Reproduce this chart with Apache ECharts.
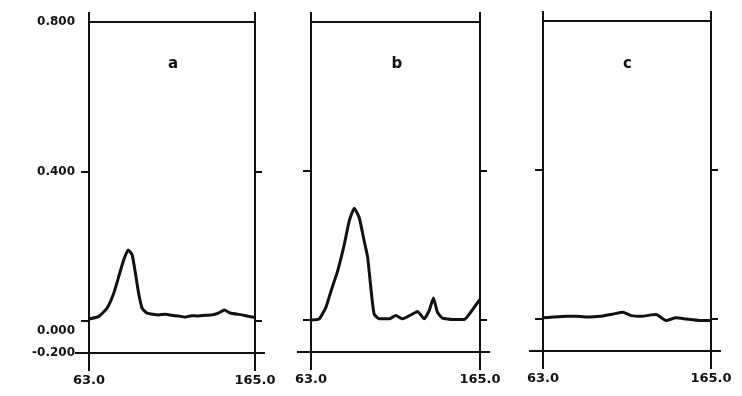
<!DOCTYPE html>
<html>
<head>
<meta charset="utf-8">
<script src="https://cdn.jsdelivr.net/npm/echarts@6/dist/echarts.min.js"></script>
<style>
  html, body { margin: 0; padding: 0; background: #fff; }
  #chart { width: 742px; height: 396px; }
</style>
</head>
<body>
<div id="chart"></div>
<script>
// panel names
const panelNames = ['a', 'b', 'c'];

// x range / tick labels (same for every panel)
const xTickValues = [63.0, 165.0];
const xTickLabels = ['63.0', '165.0'];

// y ticks as printed on the left of panel a (the bottom rule sits just under the baseline)
const yMin = -0.086;
const yMax = 0.8;
const yTickValues = [0.8, 0.4, 0.0, yMin];
const yTickLabels = ['0.800', '0.400', '0.000', '-0.200'];

// traces [x, absorbance]
const traceA = [
  [63.0, 0.005], [69.0, 0.012], [74.1, 0.034], [78.2, 0.074], [81.3, 0.119],
  [84.3, 0.163], [87.0, 0.190], [89.5, 0.177], [91.5, 0.128], [93.5, 0.074],
  [95.6, 0.034], [98.7, 0.021], [105.8, 0.016], [110.0, 0.018], [114.0, 0.015],
  [118.0, 0.013], [122.1, 0.010], [126.0, 0.014], [130.3, 0.013], [134.5, 0.015],
  [138.5, 0.016], [142.5, 0.021], [146.2, 0.029], [149.7, 0.021], [156.9, 0.016],
  [164.0, 0.010], [165.0, 0.010]
];
const traceB = [
  [63.0, 0.000], [68.0, 0.003], [72.0, 0.034], [75.1, 0.078], [79.1, 0.132],
  [83.1, 0.203], [86.1, 0.266], [89.1, 0.300], [92.1, 0.275], [95.1, 0.212],
  [97.2, 0.168], [99.1, 0.087], [101.1, 0.016], [104.2, 0.003], [110.2, 0.003],
  [114.2, 0.012], [118.2, 0.003], [124.3, 0.016], [127.3, 0.023], [131.3, 0.003],
  [134.3, 0.025], [136.9, 0.059], [139.3, 0.021], [142.3, 0.005], [148.4, 0.001],
  [155.4, 0.001], [159.4, 0.021], [164.4, 0.052], [165.0, 0.055]
];
const traceC = [
  [63.0, 0.003], [69.1, 0.005], [77.1, 0.007], [83.2, 0.007], [91.3, 0.005],
  [97.4, 0.007], [105.4, 0.013], [111.5, 0.018], [116.5, 0.009], [122.6, 0.007],
  [128.6, 0.011], [131.7, 0.012], [137.7, -0.004], [143.8, 0.003], [149.8, 0.000],
  [157.9, -0.004], [164.0, -0.004], [165.0, -0.004]
];
const traces = [traceA, traceB, traceC];

const ink = '#111';
const font = 'DejaVu Sans';

const grids = [
  { left: 89, top: 22, width: 166, height: 331 },
  { left: 311, top: 22, width: 169, height: 330 },
  { left: 543, top: 21, width: 168, height: 330 }
];

const xAxes = [];
const yAxes = [];
const series = [];
const titles = [];

grids.forEach(function (g, i) {
  // bottom axis with labels, ticks continue the side rules downward
  xAxes.push({
    gridIndex: i, type: 'value', position: 'bottom', min: 63, max: 165,
    splitLine: { show: false },
    axisLine: { show: true, onZero: false, lineStyle: { color: ink, width: 2 } },
    axisTick: { show: true, customValues: xTickValues, length: 18, lineStyle: { color: ink, width: 2 } },
    axisLabel: {
      customValues: xTickValues, margin: 21, color: ink,
      fontFamily: font, fontWeight: 'bold', fontSize: 13,
      formatter: function (v) { return xTickLabels[xTickValues.indexOf(v)]; }
    }
  });
  // top rule, side rules poke a little above it
  xAxes.push({
    gridIndex: i, type: 'value', position: 'top', min: 63, max: 165,
    splitLine: { show: false },
    axisLine: { show: true, onZero: false, lineStyle: { color: ink, width: 2 } },
    axisTick: { show: true, customValues: xTickValues, length: 10, lineStyle: { color: ink, width: 2 } },
    axisLabel: { show: false }
  });

  const yBase = {
    gridIndex: i, type: 'value', min: yMin, max: yMax,
    splitLine: { show: false },
    axisLine: { show: true, onZero: false, lineStyle: { color: ink, width: 2 } }
  };
  yAxes.push(Object.assign({}, yBase, {
    position: 'left',
    axisTick: { show: true, customValues: [0.4, 0.0], length: 8, lineStyle: { color: ink, width: 2 } },
    axisLabel: {
      show: i === 0, customValues: yTickValues, margin: 14, color: ink,
      fontFamily: font, fontWeight: 'bold', fontSize: 12,
      formatter: function (v) {
        const k = yTickValues.indexOf(v);
        if (k < 0) return '';
        return v === 0 ? '{low|' + yTickLabels[k] + '}' : yTickLabels[k];
      },
      rich: { low: { padding: [20, 0, 0, 0], fontFamily: font, fontWeight: 'bold', fontSize: 12, color: ink } }
    }
  }));
  // bottom rule sticks out to the left
  yAxes.push(Object.assign({}, yBase, {
    position: 'left',
    axisTick: { show: true, customValues: [yMin], length: 14, lineStyle: { color: ink, width: 2 } },
    axisLabel: { show: false }
  }));
  yAxes.push(Object.assign({}, yBase, {
    position: 'right',
    axisTick: { show: true, customValues: [0.4, 0.0], length: 7, lineStyle: { color: ink, width: 2 } },
    axisLabel: { show: false }
  }));
  yAxes.push(Object.assign({}, yBase, {
    position: 'right',
    axisTick: { show: true, customValues: [yMin], length: 10, lineStyle: { color: ink, width: 2 } },
    axisLabel: { show: false }
  }));

  series.push({
    type: 'line', xAxisIndex: i * 2, yAxisIndex: i * 4,
    data: traces[i], showSymbol: false, smooth: 0.15, silent: true,
    lineStyle: { color: ink, width: 3 }
  });

  titles.push({
    text: panelNames[i], left: g.left + g.width / 2 - 9, top: 52,
    textStyle: { color: ink, fontFamily: font, fontWeight: 'bold', fontSize: 15 }
  });
});

const chart = echarts.init(document.getElementById('chart'));
chart.setOption({
  animation: false,
  backgroundColor: '#fff',
  title: titles,
  grid: grids,
  xAxis: xAxes,
  yAxis: yAxes,
  series: series
});
</script>
</body>
</html>
